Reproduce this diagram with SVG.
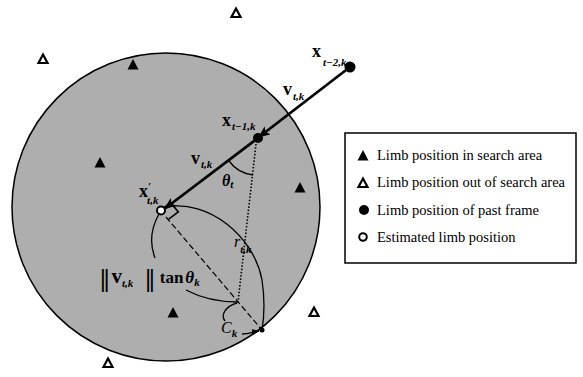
<svg xmlns="http://www.w3.org/2000/svg" width="583" height="377" viewBox="0 0 583 377">
<style>
.math{font-family:"Liberation Serif","Times New Roman",serif;fill:#000}
.b{font-weight:bold;font-size:18px}
.sub{font-style:italic;font-size:11px;font-weight:bold}
.it{font-style:italic}
.leg{font-family:"Liberation Serif","Times New Roman",serif;font-size:14.5px;fill:#000}
.ft{fill:#000}
.ot{fill:#fff;stroke:#000;stroke-width:2.2;stroke-linejoin:miter}
.thin{fill:none;stroke:#000;stroke-width:1.3}
</style>
<defs>
<marker id="ah" viewBox="0 0 12 10" refX="11" refY="5" markerWidth="12" markerHeight="10" markerUnits="userSpaceOnUse" orient="auto">
<path d="M0,0 L12,5 L0,10 L3,5 Z" fill="#000"/>
</marker>
<marker id="ahs" viewBox="0 0 8 6" refX="7" refY="3" markerWidth="8" markerHeight="6" markerUnits="userSpaceOnUse" orient="auto">
<path d="M0,0 L8,3 L0,6 Z" fill="#000"/>
</marker>
</defs>
<rect width="583" height="377" fill="#fff"/>
<g id="search-area">
<circle cx="166" cy="207" r="154" fill="#aeaeae" stroke="#000" stroke-width="1.5"/>
</g>
<g id="connectors">
<path class="thin" d="M166,207 C208,199 254,236 262,280 C265,300 264,318 262,330"/>
<path class="thin" d="M159,214 C150,230 150,245 155,258"/>
<path class="thin" d="M186,290 C203,299 222,302 238,302"/>
<line x1="166" y1="217" x2="262" y2="330" stroke="#000" stroke-width="1.2" stroke-dasharray="6,3"/>
<line x1="256" y1="144" x2="238" y2="302" stroke="#000" stroke-width="1.6" stroke-dasharray="1.5,1.8"/>
<path class="thin" d="M229,161 A35,35 0 0 0 253,175"/>
<path d="M161,210 L170.6,202.7 L178.3,211.9 L168.7,219.2" fill="none" stroke="#000" stroke-width="1.6"/>
<path class="thin" d="M237,303 C226,306 220,315 225,321"/>
<path class="thin" d="M242,334 C248,334 253,332 259,331" marker-end="url(#ahs)"/>
<line x1="350" y1="67" x2="259" y2="137" stroke="#000" stroke-width="2.8" marker-end="url(#ah)"/>
<line x1="258" y1="138" x2="165" y2="208.5" stroke="#000" stroke-width="2.8" marker-end="url(#ah)"/>
</g>
<g id="x-t-2">
<circle cx="350" cy="67" r="5.5" fill="#000"/>
<text class="math" x="312" y="57"><tspan class="b">x</tspan><tspan class="sub" dx="2" dy="9">t−2,k</tspan></text>
</g>
<g id="x-t-1">
<circle cx="258" cy="138" r="5" fill="#000"/>
<text class="math" x="222" y="126"><tspan class="b">x</tspan><tspan class="sub" dx="1" dy="4">t−1,k</tspan></text>
</g>
<g id="x-est">
<circle cx="161" cy="210.5" r="4" fill="#fff" stroke="#000" stroke-width="2"/>
<text class="math" x="139" y="197"><tspan class="b">x</tspan><tspan class="sub" dx="0" dy="-7">′</tspan><tspan class="sub" dx="-4" dy="14">t,k</tspan></text>
</g>
<g id="c-point">
<circle cx="262" cy="330" r="2.5" fill="#000"/>
</g>
<g id="labels">
<text class="math" x="283" y="95"><tspan class="b">v</tspan><tspan class="sub" dx="1" dy="5">t,k</tspan></text>
<text class="math" x="191" y="164"><tspan class="b">v</tspan><tspan class="sub" dx="1" dy="4">t,k</tspan></text>
<text class="math" x="222" y="186"><tspan class="it" font-size="16" font-weight="bold">θ</tspan><tspan class="sub" dy="2">t</tspan></text>
<text class="math" x="234" y="247"><tspan class="it" font-size="16">r</tspan><tspan class="sub" dx="0" dy="6">t,k</tspan></text>
<text class="math" x="221" y="333"><tspan class="it" font-size="16">C</tspan><tspan class="sub" dy="4">k</tspan></text>
<text class="math" x="100" y="287" font-weight="bold"><tspan font-size="26" letter-spacing="-2">||</tspan><tspan font-size="21" dx="4" dy="-4">v</tspan><tspan class="sub" font-size="12" dy="4">t,k</tspan><tspan font-size="26" letter-spacing="-2" dx="12">||</tspan><tspan font-size="17" dx="7" dy="-4">tan</tspan><tspan class="it" font-size="17" dx="2">θ</tspan><tspan class="sub" font-size="11" dy="3">k</tspan></text>
</g>
<g id="tri-in">
<polygon class="ft" points="133,59 138.5,69.5 127.5,69.5"/>
<polygon class="ft" points="100,157 105.5,167.5 94.5,167.5"/>
<polygon class="ft" points="300,182 305.5,192.5 294.5,192.5"/>
<polygon class="ft" points="173,307 178.5,317.5 167.5,317.5"/>
</g>
<g id="tri-out">
<polygon class="ot" points="236,8.5 240.5,17 231.5,17"/>
<polygon class="ot" points="43,54.5 47.5,63 38.5,63"/>
<polygon class="ot" points="314,307.5 318.5,316 309.5,316"/>
<polygon class="ot" points="108,358.5 112.5,367 103.5,367"/>
</g>
<g id="legend">
<rect x="345" y="133" width="231" height="130" fill="#fff" stroke="#000" stroke-width="1.5"/>
<polygon class="ft" points="363,150 368.5,160.5 357.5,160.5"/>
<text class="leg" x="377" y="160">Limb position in search area</text>
<polygon class="ot" points="363,178.5 367.5,187 358.5,187"/>
<text class="leg" x="377" y="187">Limb position out of search area</text>
<circle cx="364" cy="210" r="5" fill="#000"/>
<text class="leg" x="377" y="215">Limb position of  past frame</text>
<circle cx="363" cy="237" r="3.8" fill="#fff" stroke="#000" stroke-width="2"/>
<text class="leg" x="377" y="242">Estimated limb position</text>
</g>
</svg>
